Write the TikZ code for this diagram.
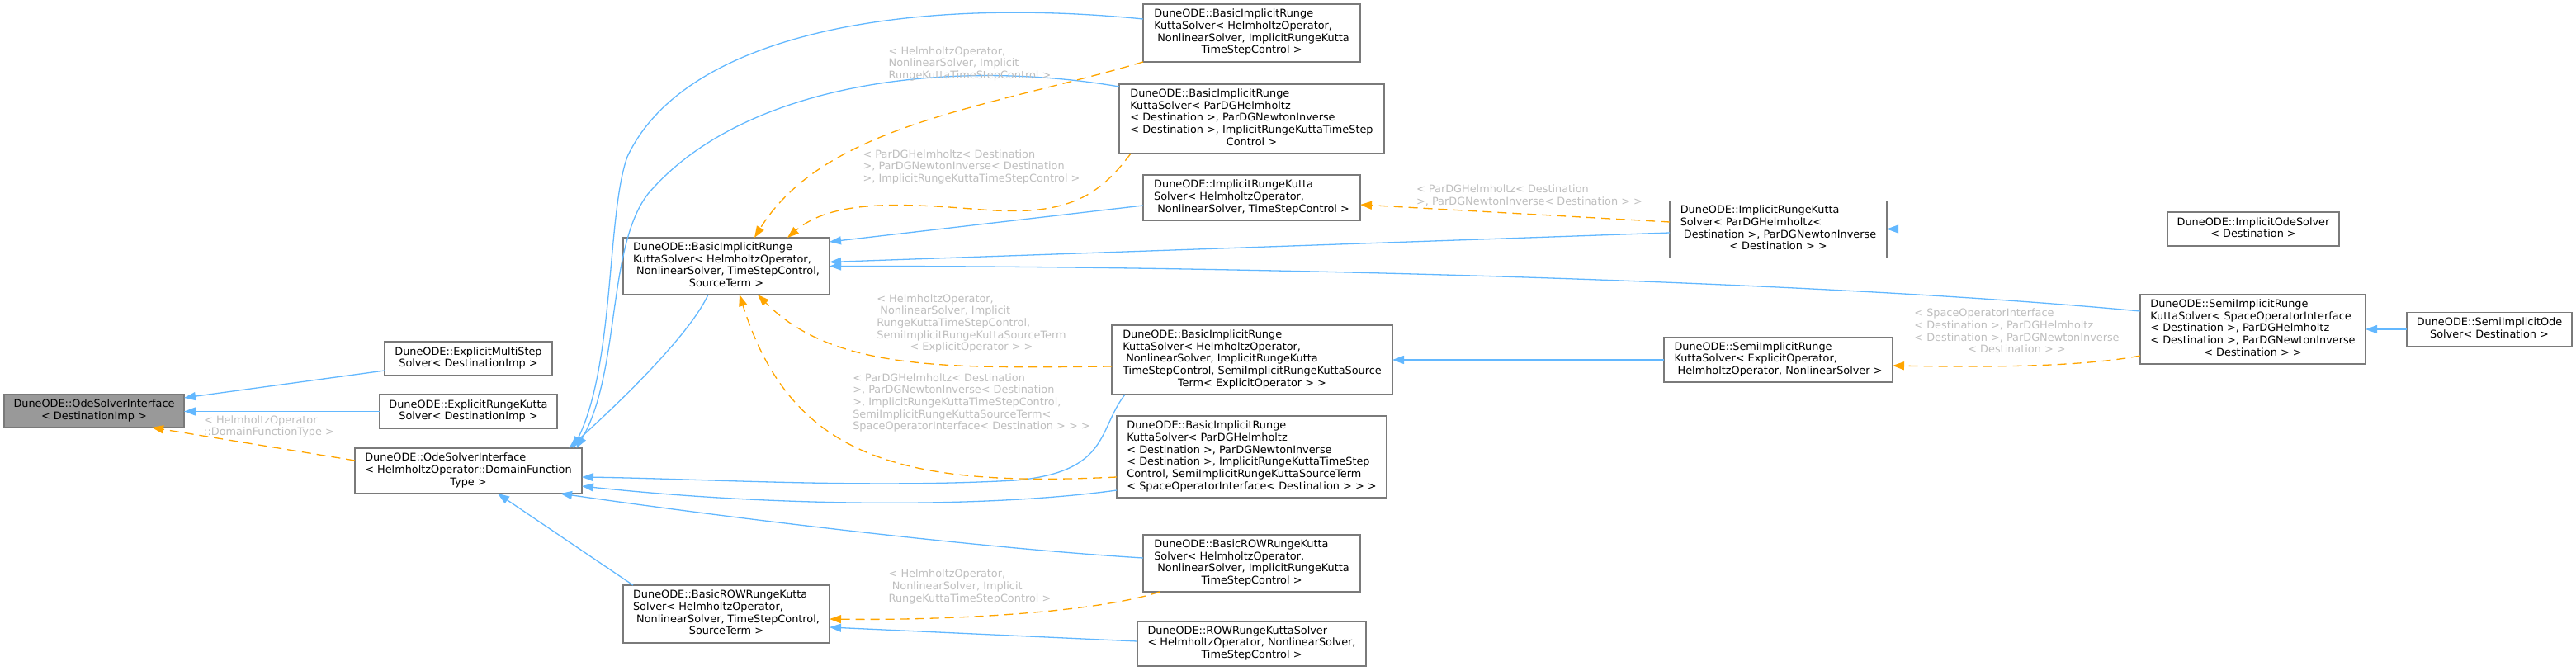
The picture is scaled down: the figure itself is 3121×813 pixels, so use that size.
\documentclass[tikz,border=0pt]{standalone}
\usepackage{fontspec}
\setmainfont{DejaVu Sans}
\usetikzlibrary{arrows.meta,calc}
\definecolor{edgeblue}{HTML}{63B8FF}
\definecolor{edgeorange}{HTML}{FFA500}
\definecolor{lblgray}{HTML}{BEBEBE}
\definecolor{boxgray}{HTML}{7A7A7A}
\definecolor{rootfill}{HTML}{999999}
\newcommand{\dlines}[2]{\begin{tabular}{@{}l@{}}#1\\\multicolumn{1}{@{}c@{}}{#2}\end{tabular}}
\begin{document}
\begin{tikzpicture}[x=1pt,y=-1pt,
  font=\fontsize{12.85}{14.7}\selectfont,
  cls/.style={draw=boxgray, line width=1.3pt, fill=white, inner sep=0pt, outer sep=0pt},
  rootcls/.style={cls, fill=rootfill},
  pub/.style={draw=edgeblue, line width=1.3pt, -{Triangle[length=14pt,width=10pt]}},
  tmpl/.style={draw=edgeorange, line width=1.3pt, dash pattern=on 11pt off 7pt, -{Triangle[length=14pt,width=10pt]}},
  lbl/.style={text=lblgray, inner sep=0pt}]
\useasboundingbox (0,0) rectangle (3121,813);
% nodes
\node[rootcls, minimum width=218pt, minimum height=40pt] (A) at (114,498) {\dlines{DuneODE::OdeSolverInterface}{< DestinationImp >}};
\node[cls, minimum width=203pt, minimum height=41pt] (B) at (567.5,434.5) {\dlines{DuneODE::ExplicitMultiStep}{Solver< DestinationImp >}};
\node[cls, minimum width=215pt, minimum height=41pt] (C) at (567.5,498.5) {\dlines{DuneODE::ExplicitRungeKutta}{Solver< DestinationImp >}};
\node[cls, minimum width=275pt, minimum height=55pt] (D) at (567.5,570.5) {\dlines{DuneODE::OdeSolverInterface\\< HelmholtzOperator::DomainFunction}{Type >}};
\node[cls, minimum width=250pt, minimum height=69pt] (E) at (880,322.5) {\dlines{DuneODE::BasicImplicitRunge\\KuttaSolver< HelmholtzOperator,\\\ NonlinearSolver, TimeStepControl,}{SourceTerm >}};
\node[cls, minimum width=250pt, minimum height=70pt] (F) at (880,744) {\dlines{DuneODE::BasicROWRungeKutta\\Solver< HelmholtzOperator,\\\ NonlinearSolver, TimeStepControl,}{SourceTerm >}};
\node[cls, minimum width=263pt, minimum height=70pt] (G) at (1516.5,40) {\dlines{DuneODE::BasicImplicitRunge\\KuttaSolver< HelmholtzOperator,\\\ NonlinearSolver, ImplicitRungeKutta}{TimeStepControl >}};
\node[cls, minimum width=321pt, minimum height=84pt] (H) at (1516.5,144) {\dlines{DuneODE::BasicImplicitRunge\\KuttaSolver< ParDGHelmholtz\\< Destination >, ParDGNewtonInverse\\< Destination >, ImplicitRungeKuttaTimeStep}{Control >}};
\node[cls, minimum width=263pt, minimum height=55pt] (I) at (1516.5,239.5) {\dlines{DuneODE::ImplicitRungeKutta\\Solver< HelmholtzOperator,}{\ NonlinearSolver, TimeStepControl >}};
\node[cls, minimum width=340pt, minimum height=84pt] (J) at (1517,436) {\dlines{DuneODE::BasicImplicitRunge\\KuttaSolver< HelmholtzOperator,\\\ NonlinearSolver, ImplicitRungeKutta\\TimeStepControl, SemiImplicitRungeKuttaSource}{Term< ExplicitOperator > >}};
\node[cls, minimum width=327pt, minimum height=99pt] (K) at (1516.5,553.5) {\dlines{DuneODE::BasicImplicitRunge\\KuttaSolver< ParDGHelmholtz\\< Destination >, ParDGNewtonInverse\\< Destination >, ImplicitRungeKuttaTimeStep\\Control, SemiImplicitRungeKuttaSourceTerm}{< SpaceOperatorInterface< Destination > > >}};
\node[cls, minimum width=263pt, minimum height=69pt] (L) at (1516.5,682.5) {\dlines{DuneODE::BasicROWRungeKutta\\Solver< HelmholtzOperator,\\\ NonlinearSolver, ImplicitRungeKutta}{TimeStepControl >}};
\node[cls, minimum width=277pt, minimum height=54pt] (M) at (1516.5,780) {\dlines{DuneODE::ROWRungeKuttaSolver\\< HelmholtzOperator, NonlinearSolver,}{TimeStepControl >}};
\node[cls, minimum width=263pt, minimum height=69pt] (N) at (2154.5,278) {\dlines{DuneODE::ImplicitRungeKutta\\Solver< ParDGHelmholtz<\\\ Destination >, ParDGNewtonInverse}{< Destination > >}};
\node[cls, minimum width=277pt, minimum height=54pt] (O) at (2154.5,436) {\dlines{DuneODE::SemiImplicitRunge\\KuttaSolver< ExplicitOperator,}{\ HelmholtzOperator, NonlinearSolver >}};
\node[cls, minimum width=208pt, minimum height=41pt] (P) at (2730,277.5) {\dlines{DuneODE::ImplicitOdeSolver}{< Destination >}};
\node[cls, minimum width=273pt, minimum height=84pt] (Q) at (2729.5,399) {\dlines{DuneODE::SemiImplicitRunge\\KuttaSolver< SpaceOperatorInterface\\< Destination >, ParDGHelmholtz\\< Destination >, ParDGNewtonInverse}{< Destination > >}};
\node[cls, minimum width=200pt, minimum height=41pt] (R) at (3016,399) {\dlines{DuneODE::SemiImplicitOde}{Solver< Destination >}};
% edges
\draw[pub] ($(B.west)+(0,14.5)$) -- ($(A.east)+(0,-16)$);
\draw[pub] (C.west) -- (C.west -| A.east);
\draw[tmpl] ($(D.west)+(0,-12.5)$) -- ($(A.south)+(70,0)$);
\draw[pub] ($(E.south)+(-22,0)$) .. controls (838,400) and (770,470) .. ($(D.north)+(122,0)$);
\draw[pub] ($(F.north west)+(12,0)$) -- ($(D.south)+(35.5,0)$);
\draw[pub] ($(G.west)+(0,-17)$) .. controls (1100,-5) and (830,40) .. (760,190) .. controls (735,260) and (745,440) .. ($(D.north)+(127,0)$);
\draw[pub] ($(H.north west)+(0,3)$) .. controls (1150,70) and (900,100) .. (785,235) .. controls (735,300) and (752,450) .. ($(D.north)+(131,0)$);
\draw[pub] ($(J.south west)+(16,0)$) .. controls (1330,520) and (1345,572) .. (1230,582) .. controls (1050,592) and (850,580) .. ($(D.east)+(0,7.5)$);
\draw[pub] ($(K.west)+(0,40.5)$) .. controls (1200,615) and (950,615) .. ($(D.east)+(0,18.5)$);
\draw[pub] ($(L.west)+(0,-6.5)$) .. controls (1200,665) and (900,630) .. ($(D.south east)+(-26,0)$);
\draw[tmpl] (G.south west) .. controls (1200,130) and (1000,150) .. ($(E.north)+(34,0)$);
\draw[tmpl] ($(H.south west)+(14,0)$) .. controls (1330,240) and (1290,262) .. (1190,254) .. controls (1100,247) and (1010,240) .. ($(E.north)+(74,0)$);
\draw[pub] ($(I.west)+(0,9.5)$) -- ($(E.east)+(0,-29.5)$);
\draw[tmpl] ($(J.west)+(0,8)$) .. controls (1150,446) and (1010,450) .. ($(E.south)+(38,0)$);
\draw[tmpl] ($(K.west)+(0,24.5)$) .. controls (1100,590) and (960,560) .. ($(E.south)+(16,0)$);
\draw[pub] ($(N.west)+(0,4)$) -- ($(E.east)+(0,-5)$);
\draw[pub] ($(Q.west)+(0,-22)$) .. controls (2200,340) and (1500,322) .. (E.east);
\draw[tmpl] ($(L.south west)+(20,0)$) .. controls (1330,742) and (1150,752) .. ($(F.east)+(0,6)$);
\draw[pub] ($(M.west)+(0,-3)$) -- ($(F.east)+(0,16)$);
\draw[tmpl] ($(N.west)+(0,-9)$) -- ($(I.east)+(0,8.5)$);
\draw[pub] (P.west) -- (P.west -| N.east);
\draw[pub] (O.west) -- (J.east);
\draw[tmpl] ($(Q.west)+(0,32)$) .. controls (2520,445) and (2400,445) .. ($(O.east)+(0,7)$);
\draw[pub] (R.west) -- (Q.east);
% labels
\node[lbl] (l1) at (326,517.5) {\dlines{< HelmholtzOperator}{::DomainFunctionType >}};
\node[lbl] (l2) at (1175,78) {\dlines{< HelmholtzOperator,\\NonlinearSolver, Implicit}{RungeKuttaTimeStepControl >}};
\node[lbl] (l3) at (1177,203) {\dlines{< ParDGHelmholtz< Destination\\>, ParDGNewtonInverse< Destination}{>, ImplicitRungeKuttaTimeStepControl >}};
\node[lbl] (l4) at (1177,392.5) {\dlines{< HelmholtzOperator,\\\ NonlinearSolver, Implicit\\RungeKuttaTimeStepControl,\\SemiImplicitRungeKuttaSourceTerm}{< ExplicitOperator > >}};
\node[lbl] (l5) at (1177,488.5) {\dlines{< ParDGHelmholtz< Destination\\>, ParDGNewtonInverse< Destination\\>, ImplicitRungeKuttaTimeStepControl,\\SemiImplicitRungeKuttaSourceTerm<}{SpaceOperatorInterface< Destination > > >}};
\node[lbl] (l6) at (1175,711.5) {\dlines{< HelmholtzOperator,\\\ NonlinearSolver, Implicit}{RungeKuttaTimeStepControl >}};
\node[lbl] (l7) at (1853,238) {\dlines{< ParDGHelmholtz< Destination}{>, ParDGNewtonInverse< Destination > >}};
\node[lbl] (l8) at (2443.5,403) {\dlines{< SpaceOperatorInterface\\< Destination >, ParDGHelmholtz\\< Destination >, ParDGNewtonInverse}{< Destination > >}};
\end{tikzpicture}
\end{document}
